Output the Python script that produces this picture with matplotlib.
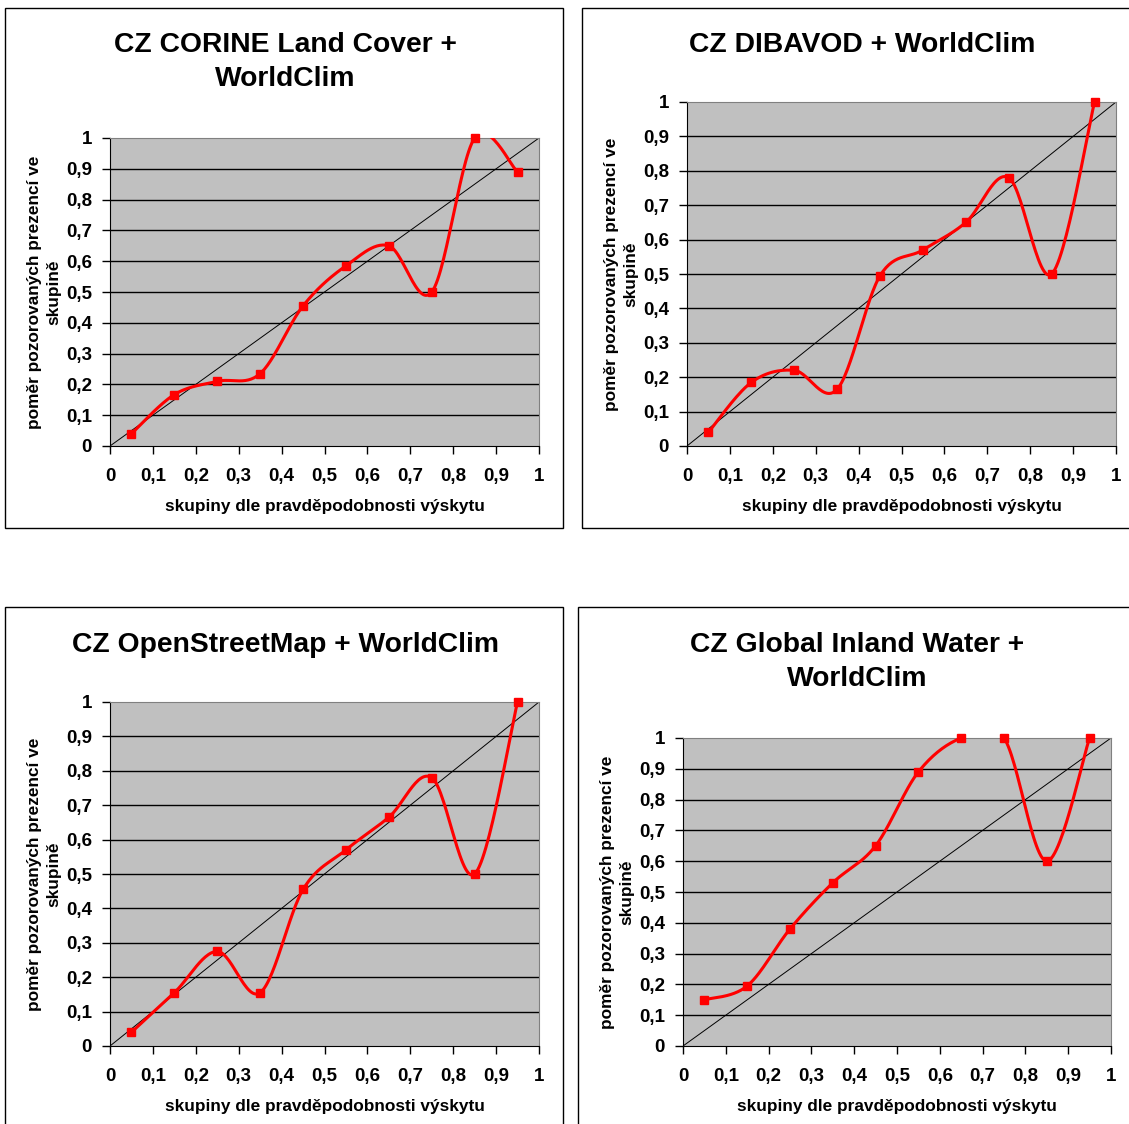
import numpy as np
import matplotlib.pyplot as plt
from matplotlib.patches import Rectangle

plt.rcParams['font.family'] = ['Liberation Sans', 'DejaVu Sans']
plt.rcParams['font.weight'] = 'bold'

# group centres on the x axis
groups = [0.05, 0.15, 0.25, 0.35, 0.45, 0.55, 0.65, 0.75, 0.85, 0.95]

corine = [0.04, 0.167, 0.21, 0.235, 0.455, 0.585, 0.65, 0.50, 1.0, 0.89]
dibavod = [0.04, 0.185, 0.22, 0.165, 0.495, 0.57, 0.65, 0.78, 0.50, 1.0]
osm = [0.04, 0.155, 0.275, 0.155, 0.455, 0.57, 0.665, 0.78, 0.50, 1.0]
giw = [0.15, 0.195, 0.38, 0.53, 0.65, 0.89, 1.0, 1.0, 0.60, 1.0]

titles = ['CZ CORINE Land Cover +\nWorldClim',
          'CZ DIBAVOD + WorldClim',
          'CZ OpenStreetMap + WorldClim',
          'CZ Global Inland Water +\nWorldClim']
ticks = [0, 0.1, 0.2, 0.3, 0.4, 0.5, 0.6, 0.7, 0.8, 0.9, 1]
tick_labels = ['0', '0,1', '0,2', '0,3', '0,4', '0,5', '0,6', '0,7', '0,8', '0,9', '1']
xlabel = 'skupiny dle pravděpodobnosti výskytu'
ylabel = 'poměr pozorovaných prezencí ve\nskupině'

W, H = 1129, 1124


def smooth(x, y, n=30):
    # Excel-like smoothed line (Catmull-Rom bezier)
    x = np.asarray(x, float)
    y = np.asarray(y, float)
    px = np.concatenate([[x[0]], x, [x[-1]]])
    py = np.concatenate([[y[0]], y, [y[-1]]])
    t = np.linspace(0, 1, n)
    xs, ys = [], []
    for i in range(1, len(px) - 2):
        p0 = np.array([px[i], py[i]])
        p3 = np.array([px[i + 1], py[i + 1]])
        c1 = p0 + (np.array([px[i + 1], py[i + 1]]) - np.array([px[i - 1], py[i - 1]])) / 6
        c2 = p3 - (np.array([px[i + 2], py[i + 2]]) - np.array([px[i], py[i]])) / 6
        b = ((1 - t) ** 3)[:, None] * p0 + (3 * (1 - t) ** 2 * t)[:, None] * c1 \
            + (3 * (1 - t) * t ** 2)[:, None] * c2 + (t ** 3)[:, None] * p3
        xs.append(b[:, 0])
        ys.append(b[:, 1])
    return np.concatenate(xs), np.concatenate(ys)


fig = plt.figure(figsize=(W / 100, H / 100), dpi=100)

# (frame box, plot area box, title centre) in pixels: x0, y0, x1, y1
panels = [
    (corine, (5, 8, 563, 528), (110, 138, 539, 446), (285, 62)),
    (dibavod, (582, 8, 1140, 528), (687, 102, 1116, 446), (862, 45)),
    (osm, (5, 607, 563, 1140), (110, 702, 539, 1046), (285, 645)),
    (giw, (578, 607, 1140, 1140), (683, 738, 1111, 1046), (857, 662)),
]

for (vals, frame, area, tpos), title in zip(panels, titles):
    fx0, fy0, fx1, fy1 = frame
    fig.patches.append(Rectangle((fx0 / W, 1 - fy1 / H), (fx1 - fx0) / W,
                                 (fy1 - fy0) / H, transform=fig.transFigure,
                                 fill=False, edgecolor='black', linewidth=1))
    x0, y0, x1, y1 = area
    ax = fig.add_axes([x0 / W, 1 - y1 / H, (x1 - x0) / W, (y1 - y0) / H])
    ax.set_facecolor('#C0C0C0')
    ax.set_xlim(0, 1)
    ax.set_ylim(0, 1)
    for yv in ticks[1:-1]:
        ax.axhline(yv, color='black', linewidth=1, zorder=1)
    ax.plot([0, 1], [0, 1], color='black', linewidth=0.7, zorder=2)
    sx, sy = smooth(groups, vals)
    ax.plot(sx, sy, color='red', linewidth=2.2, zorder=3)
    ax.plot(groups, vals, linestyle='none', marker='s', markersize=5.5,
            color='red', zorder=4, clip_on=False)

    for side in ['top', 'right']:
        ax.spines[side].set_color('#808080')
    for side in ['left', 'bottom']:
        ax.spines[side].set_color('black')
    ax.set_xticks(ticks)
    ax.set_xticklabels(tick_labels)
    ax.set_yticks(ticks)
    ax.set_yticklabels(tick_labels)
    ax.tick_params(direction='out', length=6, width=1, labelsize=13.5)
    ax.tick_params(axis='x', pad=10)
    ax.tick_params(axis='y', pad=7)
    for lab in ax.get_xticklabels() + ax.get_yticklabels():
        lab.set_fontweight('bold')
    ax.set_xlabel(xlabel, fontsize=12.4, fontweight='bold', labelpad=10)
    ax.set_ylabel(ylabel, fontsize=12.4, fontweight='bold', labelpad=3,
                  linespacing=1.4)
    fig.text(tpos[0] / W, 1 - tpos[1] / H, title, ha='center', va='center',
             fontsize=20.3, fontweight='bold', linespacing=1.38)

fig.savefig('out.png', dpi=100)
